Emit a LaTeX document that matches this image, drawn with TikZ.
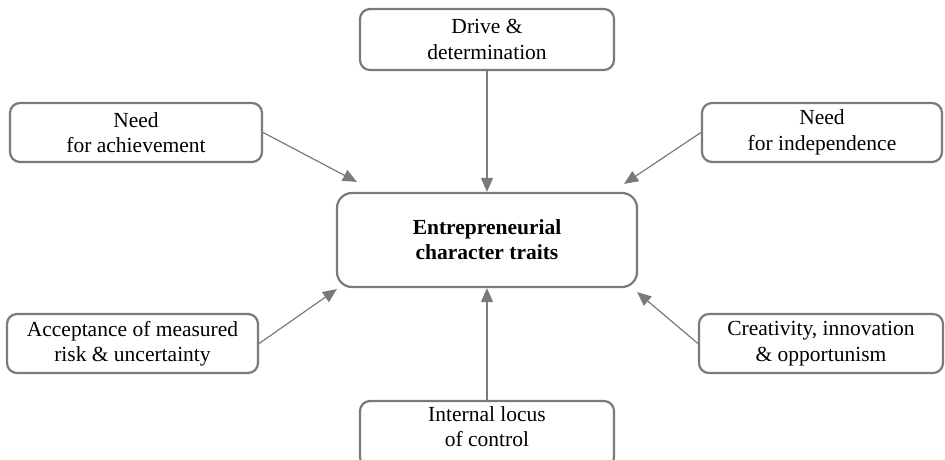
\documentclass[tikz,border=0pt]{standalone}
\usepackage{fontspec}
\setmainfont{Liberation Serif}
\usetikzlibrary{arrows.meta}
\definecolor{edgegray}{HTML}{7A7A7A}
\tikzset{
  trait/.style={draw=edgegray, line width=2.2pt, rounded corners=10pt, fill=white,
    align=center, inner sep=0pt, font=\fontsize{21.5}{25.5}\selectfont},
  arr/.style={draw=edgegray, line width=1.2pt, -{Triangle[length=14pt,width=12pt]}}
}
\begin{document}
\begin{tikzpicture}[x=1pt,y=1pt]
\useasboundingbox (0,0) rectangle (945,459);
\node[trait, minimum width=254pt, minimum height=61pt] (drive) at (487,419.5) {Drive \&\\determination};
\node[trait, minimum width=252pt, minimum height=59pt] (ach) at (136,326.5) {Need\\for achievement};
\node[trait, minimum width=240pt, minimum height=59pt] (ind) at (822,326.5) {Need\\for independence};
\node[trait, rounded corners=15pt, minimum width=300pt, minimum height=94pt, font=\fontsize{21.5}{25}\selectfont\bfseries] (core) at (487,219) {Entrepreneurial\\character traits};
\node[trait, minimum width=251pt, minimum height=59pt] (acc) at (132.5,115.5) {Acceptance of measured\\risk \& uncertainty};
\node[trait, minimum width=244pt, minimum height=59pt] (cre) at (821,115.5) {Creativity, innovation\\\& opportunism};
\node[trait, minimum width=254pt, minimum height=66pt] (loc) at (487,25) {Internal locus\\of control\\[-11pt]\mbox{}};
\draw[arr] (drive.south) -- (core.north);
\draw[arr] (ach.east) -- ([shift={(21pt,10pt)}]core.north west);
\draw[arr] (ind.west) -- ([shift={(-14pt,8pt)}]core.north east);
\draw[arr] (acc.east) -- ([shift={(1pt,-1pt)}]core.south west);
\draw[arr] (cre.west) -- ([shift={(-1pt,-4pt)}]core.south east);
\draw[arr] (loc.north) -- (core.south);
\end{tikzpicture}
\end{document}
